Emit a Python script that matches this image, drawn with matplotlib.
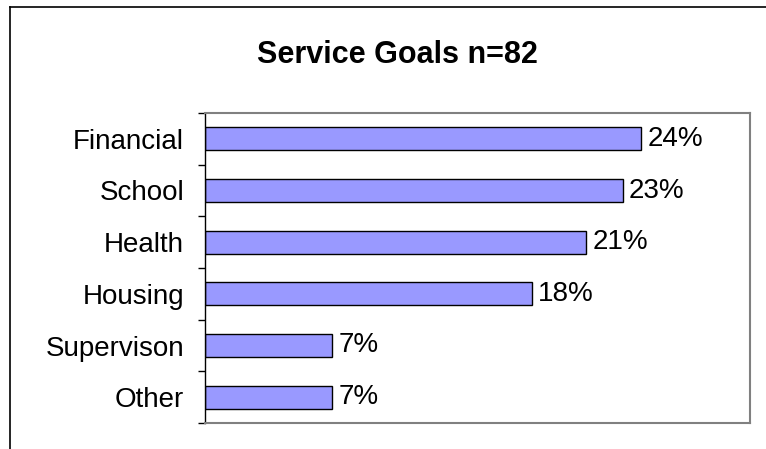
import matplotlib
matplotlib.use('Agg')
import matplotlib.pyplot as plt
from matplotlib.lines import Line2D
import numpy as np

# chart data (top to bottom as in the picture)
categories = ['Financial', 'School', 'Health', 'Housing', 'Supervison', 'Other']
shares = [0.24, 0.23, 0.21, 0.18, 0.07, 0.07]
title = 'Service Goals n=82'

plt.rcParams['font.family'] = ['Liberation Sans', 'DejaVu Sans']

fig = plt.figure(figsize=(7.66, 4.49), dpi=100)
ax = fig.add_axes([205/766, 1-423/449, (750-205)/766, (423-113)/449])

pos = np.arange(len(categories))
ax.barh(pos, shares, height=0.45, color='#9999FF', edgecolor='black', linewidth=1.0)

# value labels just past each bar end
for y, v in zip(pos, shares):
    ax.annotate('%d%%' % round(v*100), xy=(v, y), xytext=(4.5, 0), textcoords='offset points',
                va='center', ha='left', fontsize=20)

ax.set_xlim(0, 0.30)
ax.set_ylim(len(categories)-0.5, -0.5)  # first category on top

ax.set_yticks(pos)
ax.set_yticklabels(categories, fontsize=20)
ax.tick_params(axis='y', which='major', length=0, pad=15)
# excel style tick marks between categories
ax.set_yticks(np.arange(len(categories)+1)-0.5, minor=True)
ax.tick_params(axis='y', which='minor', length=5, width=1, direction='out')
ax.set_xticks([])

for s in ['top', 'right', 'bottom']:
    ax.spines[s].set_color('#808080')
    ax.spines[s].set_linewidth(1.5)
ax.spines['left'].set_color('black')
ax.spines['left'].set_linewidth(1.0)

fig.text(397.5/766, 1-55/449, title, ha='center', va='center', fontsize=22, fontweight='bold')

# outer chart frame (only top and left edges are inside the crop)
fig.add_artist(Line2D([10/766, 10/766], [0, 1-7/449], color='black', linewidth=1.2, transform=fig.transFigure))
fig.add_artist(Line2D([10/766, 1], [1-7/449, 1-7/449], color='black', linewidth=1.2, transform=fig.transFigure))

fig.savefig('out.png', dpi=100)
